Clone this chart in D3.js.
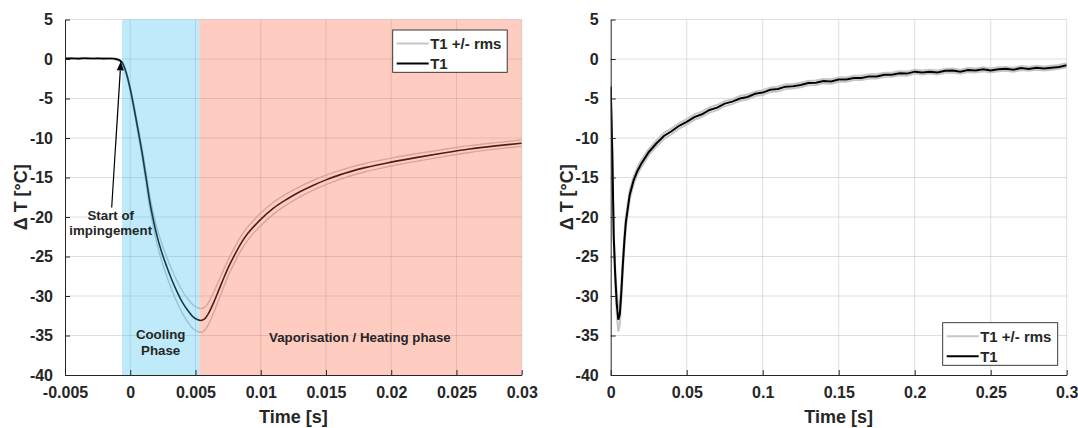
<!DOCTYPE html>
<html>
<head>
<meta charset="utf-8">
<script src="https://cdn.jsdelivr.net/npm/d3@7"></script>
<style>
  html, body { margin: 0; padding: 0; background: #ffffff; }
  svg { display: block; }
  text { font-family: Arial, "Liberation Sans", Helvetica, sans-serif; font-weight: bold; fill: #262626; }
</style>
</head>
<body>
<svg id="chart" width="1078" height="428"></svg>
<script>
// ---------------- DATA ----------------
const leftTime = [-0.005, -0.0045, -0.004, -0.0035, -0.003, -0.0025, -0.002, -0.0015, -0.0012, -0.0009, -0.0006, -0.0003,
  0, 0.0003, 0.0006, 0.0009, 0.0012, 0.0015, 0.0018, 0.0021, 0.0024, 0.0028, 0.0032, 0.0036, 0.004, 0.0044, 0.0048,
  0.0051, 0.0054, 0.0057, 0.006, 0.0064, 0.0068, 0.0072, 0.0076, 0.008, 0.0085, 0.009, 0.0095, 0.01, 0.011, 0.012,
  0.013, 0.014, 0.015, 0.016, 0.018, 0.02, 0.022, 0.024, 0.026, 0.028, 0.03];
const leftT1 = [0.05, 0.08, 0.05, 0.1, 0.06, 0.08, 0.05, 0.07, 0.03, -0.1, -0.5, -1.8,
  -3.8, -6.3, -9.0, -11.8, -14.9, -18.1, -20.6, -22.7, -24.4, -26.3, -28.0, -29.5, -30.8, -31.8, -32.6,
  -32.95, -33.1, -32.9, -32.2, -30.8, -29.2, -27.6, -26.1, -24.8, -23.3, -22.1, -21.15, -20.3, -18.85, -17.75,
  -16.8, -16.0, -15.3, -14.7, -13.75, -13.05, -12.45, -11.9, -11.4, -11.0, -10.65];
const leftRms = [0.1, 0.1, 0.1, 0.1, 0.1, 0.1, 0.1, 0.1, 0.1, 0.12, 0.15, 0.22,
  0.3, 0.4, 0.5, 0.6, 0.7, 0.8, 0.9, 1.0, 1.1, 1.2, 1.3, 1.35, 1.4, 1.45, 1.5,
  1.5, 1.5, 1.45, 1.4, 1.3, 1.2, 1.1, 1.0, 0.95, 0.9, 0.85, 0.8, 0.8, 0.75, 0.7,
  0.65, 0.62, 0.6, 0.57, 0.52, 0.5, 0.48, 0.45, 0.43, 0.41, 0.4];

const rightTime = [0, 0.001, 0.002, 0.003, 0.004, 0.005, 0.006, 0.007, 0.008, 0.009, 0.01, 0.0125, 0.015, 0.0175,
  0.02, 0.025, 0.03, 0.035, 0.04, 0.045, 0.05, 0.055, 0.06, 0.065, 0.07, 0.075, 0.08, 0.085, 0.09, 0.095, 0.1,
  0.105, 0.11, 0.115, 0.12, 0.125, 0.13, 0.135, 0.14, 0.145, 0.15, 0.155, 0.16, 0.165, 0.17, 0.175, 0.18, 0.185,
  0.19, 0.195, 0.2, 0.205, 0.21, 0.215, 0.22, 0.225, 0.23, 0.235, 0.24, 0.245, 0.25, 0.255, 0.26, 0.265, 0.27,
  0.275, 0.28, 0.285, 0.29, 0.295, 0.3];
const rightT1 = [-3.5, -11.5, -22.5, -27.5, -31.0, -33.0, -32.3, -29.5, -26.0, -23.0, -20.6, -17.2, -15.4, -14.2,
  -13.3, -11.8, -10.7, -9.75, -9.15, -8.45, -7.95, -7.35, -7.0, -6.45, -6.15, -5.65, -5.4, -5.0, -4.8, -4.4, -4.25,
  -3.9, -3.8, -3.5, -3.45, -3.3, -3.05, -3.0, -2.8, -2.85, -2.6, -2.6, -2.4, -2.4, -2.2, -2.2, -2.0, -2.0,
  -1.8, -1.85, -1.6, -1.7, -1.6, -1.7, -1.5, -1.45, -1.6, -1.4, -1.45, -1.3, -1.45, -1.3, -1.25, -1.35, -1.15,
  -1.25, -1.1, -1.2, -1.1, -1.0, -0.8];
const rightRms = [0.2, 0.4, 0.7, 1.0, 1.3, 1.5, 1.3, 1.1, 0.9, 0.8, 0.7, 0.6, 0.5, 0.45,
  0.45, 0.4, 0.4, 0.38, 0.36, 0.35, 0.35, 0.34, 0.33, 0.33, 0.32, 0.32, 0.31, 0.31, 0.3, 0.3, 0.3,
  0.3, 0.3, 0.29, 0.29, 0.29, 0.28, 0.28, 0.28, 0.28, 0.27, 0.27, 0.27, 0.27, 0.27, 0.26, 0.26, 0.26,
  0.26, 0.26, 0.25, 0.25, 0.25, 0.25, 0.25, 0.25, 0.25, 0.25, 0.25, 0.25, 0.25, 0.25, 0.25, 0.25, 0.25,
  0.25, 0.25, 0.25, 0.25, 0.25, 0.25];

const yTicks = [5, 0, -5, -10, -15, -20, -25, -30, -35, -40];
const yTickLabels = ["5", "0", "-5", "-10", "-15", "-20", "-25", "-30", "-35", "-40"];
const leftXTicks = [-0.005, 0, 0.005, 0.01, 0.015, 0.02, 0.025, 0.03];
const leftXTickLabels = ["-0.005", "0", "0.005", "0.01", "0.015", "0.02", "0.025", "0.03"];
const rightXTicks = [0, 0.05, 0.1, 0.15, 0.2, 0.25, 0.3];
const rightXTickLabels = ["0", "0.05", "0.1", "0.15", "0.2", "0.25", "0.3"];

const phaseNames = ["Cooling", "Vaporisation"];
const phaseStart = [-0.00063, 0.0053];
const phaseEnd = [0.0053, 0.03];
const phaseColors = ["rgb(56,191,240)", "rgb(255,95,65)"];
const phaseLabels = [["Cooling", "Phase"], ["Vaporisation / Heating phase"]];
const phaseLabelT = [0.00233, 0.0176];
const phaseLabelY = [-35.5, -35.8];

const legendLabels = ["T1 +/- rms", "T1"];
const annotationText = ["Start of", "impingement"];
const annotationTip = [-0.00072, -0.3];
const annotationTail = [-0.00142, -18.8];

// ---------------- DRAW ----------------
const svg = d3.select("#chart");
const ink = "#262626";
const bandColor = "#c6c6c6";

function drawPanel(cfg) {
  const g = svg.append("g");
  const x = d3.scaleLinear().domain(cfg.xDomain).range([cfg.left, cfg.right]);
  const y = d3.scaleLinear().domain([-40, 5]).range([cfg.bottom, cfg.top]);

  const clipId = "clip" + cfg.id;
  svg.append("defs").append("clipPath").attr("id", clipId)
    .append("rect").attr("x", cfg.left).attr("y", cfg.top)
    .attr("width", cfg.right - cfg.left).attr("height", cfg.bottom - cfg.top);

  // grid
  const grid = g.append("g").attr("stroke", ink).attr("stroke-opacity", 0.15).attr("stroke-width", 1);
  cfg.xTicks.forEach(t => {
    if (t === cfg.xDomain[0]) return;
    grid.append("line").attr("x1", x(t)).attr("x2", x(t)).attr("y1", cfg.top).attr("y2", cfg.bottom);
  });
  yTicks.forEach(v => {
    if (v === -40) return;
    grid.append("line").attr("x1", cfg.left).attr("x2", cfg.right).attr("y1", y(v)).attr("y2", y(v));
  });

  // data lines
  const data = cfg.time.map((t, i) => ({ t, m: cfg.mean[i], r: cfg.rms[i] }));
  const mk = acc => d3.line().x(d => x(d.t)).y(d => y(acc(d))).curve(cfg.curve);
  const lines = g.append("g").attr("clip-path", `url(#${clipId})`).attr("fill", "none");
  lines.append("path").datum(data).attr("d", mk(d => d.m + d.r))
    .attr("stroke", bandColor).attr("stroke-width", cfg.bandWidth);
  lines.append("path").datum(data).attr("d", mk(d => d.m - d.r))
    .attr("stroke", bandColor).attr("stroke-width", cfg.bandWidth);
  lines.append("path").datum(data).attr("d", mk(d => d.m))
    .attr("stroke", "#000").attr("stroke-width", cfg.lineWidth);

  // phase patches (semi-transparent, on top of lines)
  if (cfg.phases) {
    const pg = g.append("g");
    phaseNames.forEach((n, i) => {
      pg.append("rect")
        .attr("x", x(phaseStart[i])).attr("y", cfg.top)
        .attr("width", x(phaseEnd[i]) - x(phaseStart[i]))
        .attr("height", cfg.bottom - cfg.top)
        .attr("fill", phaseColors[i]).attr("fill-opacity", 0.32);
    });
    phaseLabels.forEach((lines2, i) => {
      const tx = g.append("text").attr("text-anchor", "middle").style("font-size", "13.3px");
      lines2.forEach((s, j) => {
        tx.append("tspan").attr("x", x(phaseLabelT[i]))
          .attr("y", y(phaseLabelY[i]) + j * 15.7)
          .text(s);
      });
    });
    // annotation arrow
    const tip = [x(annotationTip[0]), y(annotationTip[1])];
    const tail = [x(annotationTail[0]), y(annotationTail[1])];
    const ang = Math.atan2(tip[1] - tail[1], tip[0] - tail[0]);
    const L = 9, W = 3.5;
    const bx = tip[0] - L * Math.cos(ang), by = tip[1] - L * Math.sin(ang);
    g.append("line").attr("x1", tail[0]).attr("y1", tail[1]).attr("x2", bx).attr("y2", by)
      .attr("stroke", "#000").attr("stroke-width", 1.2);
    g.append("path").attr("fill", "#000")
      .attr("d", `M${tip[0]},${tip[1]}L${bx - W * Math.sin(ang)},${by + W * Math.cos(ang)}L${bx + W * Math.sin(ang)},${by - W * Math.cos(ang)}Z`);
    const at = g.append("text").attr("text-anchor", "middle").style("font-size", "13.3px");
    annotationText.forEach((s, j) => {
      at.append("tspan").attr("x", tail[0] - 1).attr("y", tail[1] + 12 + j * 15.3).text(s);
    });
  }

  // axes
  const xAxis = d3.axisBottom(x).tickValues(cfg.xTicks).tickSizeInner(-5).tickSizeOuter(0)
    .tickFormat((d, i) => cfg.xLabels[i]).tickPadding(12);
  const gx = g.append("g").attr("transform", `translate(0,${cfg.bottom})`).call(xAxis);
  gx.select(".domain").attr("stroke", ink);
  gx.selectAll(".tick line").attr("stroke", ink);
  gx.selectAll(".tick text").attr("fill", ink).style("font-size", "16px")
    .style("font-family", "Arial, 'Liberation Sans', sans-serif").style("font-weight", "bold");

  const yAxis = d3.axisLeft(y).tickValues(yTicks).tickSizeInner(-5).tickSizeOuter(0)
    .tickFormat((d, i) => yTickLabels[i]).tickPadding(12);
  const gy = g.append("g").attr("transform", `translate(${cfg.left},0)`).call(yAxis);
  gy.select(".domain").attr("stroke", ink);
  gy.selectAll(".tick line").attr("stroke", ink);
  gy.selectAll(".tick text").attr("fill", ink).style("font-size", "16px")
    .style("font-family", "Arial, 'Liberation Sans', sans-serif").style("font-weight", "bold");

  // axis titles
  g.append("text").attr("x", (cfg.left + cfg.right) / 2).attr("y", 423)
    .attr("text-anchor", "middle").style("font-size", "18px").text("Time [s]");
  g.append("text").attr("transform", `translate(${cfg.left - 38},${(cfg.top + cfg.bottom) / 2}) rotate(-90)`)
    .attr("text-anchor", "middle").style("font-size", "18px").text("\u0394 T [\u00B0C]");

  // legend
  const lg = g.append("g");
  lg.append("rect").attr("x", cfg.legend[0]).attr("y", cfg.legend[1])
    .attr("width", cfg.legend[2]).attr("height", cfg.legend[3])
    .attr("fill", "#fff").attr("stroke", ink).attr("stroke-width", 0.9);
  const lcolors = [bandColor, "#000"];
  legendLabels.forEach((s, i) => {
    const ly = cfg.legend[1] + 13.5 + i * 20;
    lg.append("line").attr("x1", cfg.legend[0] + 4).attr("x2", cfg.legend[0] + 36)
      .attr("y1", ly).attr("y2", ly).attr("stroke", lcolors[i]).attr("stroke-width", 2);
    lg.append("text").attr("x", cfg.legend[0] + 37.5).attr("y", ly + 5.3)
      .style("font-size", "15px").text(s);
  });
}

drawPanel({
  id: "L", left: 65, right: 521.7, top: 19.5, bottom: 375,
  xDomain: [-0.005, 0.03], xTicks: leftXTicks, xLabels: leftXTickLabels,
  time: leftTime, mean: leftT1, rms: leftRms, curve: d3.curveMonotoneX,
  lineWidth: 1.6, bandWidth: 1.4, phases: true,
  legend: [392.7, 30, 114.5, 42.3]
});
drawPanel({
  id: "R", left: 610.7, right: 1066.7, top: 19.5, bottom: 375,
  xDomain: [0, 0.3], xTicks: rightXTicks, xLabels: rightXTickLabels,
  time: rightTime, mean: rightT1, rms: rightRms, curve: d3.curveLinear,
  lineWidth: 2, bandWidth: 2, phases: false,
  legend: [942.7, 322.7, 115, 42.6]
});
</script>
</body>
</html>
